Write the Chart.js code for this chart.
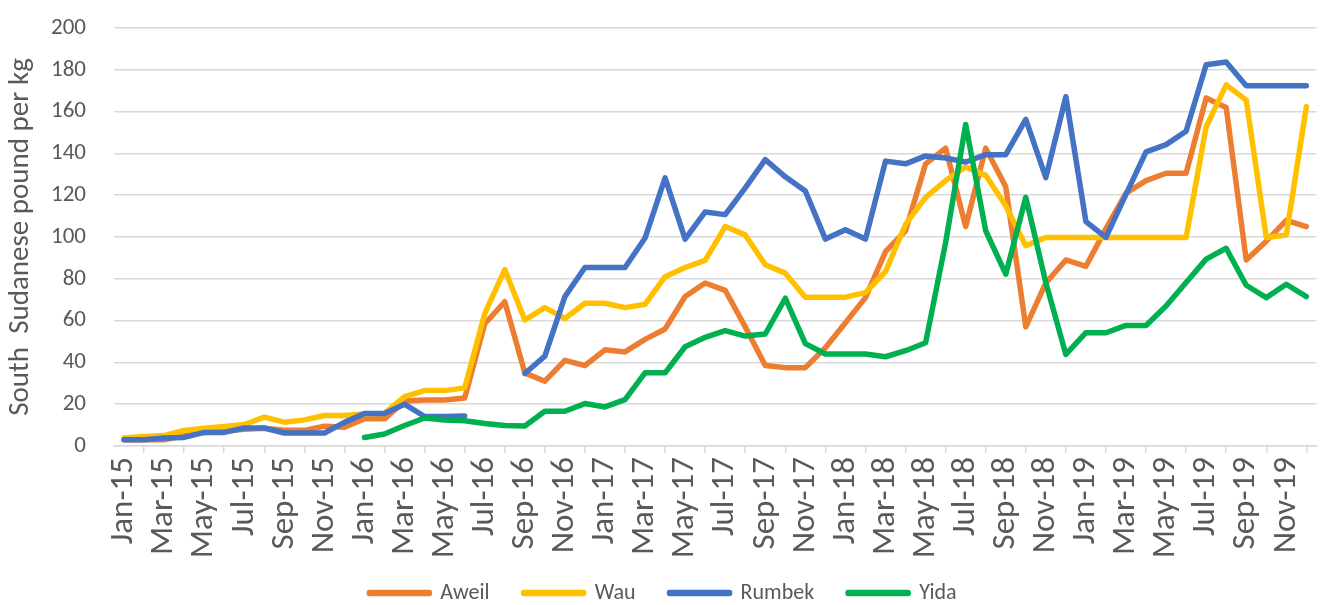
<!DOCTYPE html>
<html>
<head>
<meta charset="utf-8">
<script src="https://cdn.jsdelivr.net/npm/chart.js@4.4.1/dist/chart.umd.min.js"></script>
<style>
  html, body { margin: 0; padding: 0; background: #ffffff; }
  #wrap { width: 1330px; height: 605px; position: relative; }
</style>
</head>
<body>
<div id="wrap"><canvas id="c" width="1330" height="605"></canvas></div>
<script>
const months = [
  "Jan-15","Feb-15","Mar-15","Apr-15","May-15","Jun-15","Jul-15","Aug-15","Sep-15","Oct-15","Nov-15","Dec-15",
  "Jan-16","Feb-16","Mar-16","Apr-16","May-16","Jun-16","Jul-16","Aug-16","Sep-16","Oct-16","Nov-16","Dec-16",
  "Jan-17","Feb-17","Mar-17","Apr-17","May-17","Jun-17","Jul-17","Aug-17","Sep-17","Oct-17","Nov-17","Dec-17",
  "Jan-18","Feb-18","Mar-18","Apr-18","May-18","Jun-18","Jul-18","Aug-18","Sep-18","Oct-18","Nov-18","Dec-18",
  "Jan-19","Feb-19","Mar-19","Apr-19","May-19","Jun-19","Jul-19","Aug-19","Sep-19","Oct-19","Nov-19","Dec-19"
];

const aweil = [
  3, 3, 3, 5, 6.5, 7, 8, 8.5, 7.5, 7.5, 9.5, 9,
  13, 13, 21.5, 22, 22, 23, 58.5, 69, 35, 31, 41, 38.5,
  46, 45, 51, 56, 71.5, 78, 74.5, 57, 38.5, 37.5, 37.5, 47,
  59, 71, 93, 103, 135, 142.5, 105, 142.5, 124, 57, 78, 89,
  86, 104, 121, 127, 130.5, 130.5, 166.5, 162, 89, 98, 108, 105
];

const wau = [
  3.8, 4.5, 5, 7.4, 8.5, 9.3, 10.3, 13.8, 11.4, 12.5, 14.6, 14.6,
  15.3, 15.6, 23.6, 26.5, 26.5, 27.8, 63.3, 84.4, 60.3, 66.2, 61, 68.3,
  68.3, 66.2, 67.8, 81, 85.4, 88.8, 105, 101, 86.7, 82.7, 71.2, 71.2,
  71.2, 73.4, 83.5, 106, 119, 127, 133.5, 129.5, 115, 95.8, 99.8, 99.8,
  99.8, 99.8, 99.8, 99.8, 99.8, 99.8, 152.7, 172.8, 165.5, 99.8, 101, 162.3
];

const rumbek = [
  3, 3, 3.8, 4.1, 6.5, 6.5, 8.6, 8.6, 6.2, 6.2, 6.2, 11.3,
  15.6, 15.6, 20, 14.1, 14.1, 14.4, null, null, 34.7, 43, 71.5, 85.4,
  85.4, 85.4, 99.5, 128.3, 99, 112, 110.7, 123.5, 137, 128.8, 122, 99,
  103.5, 99, 136.3, 135, 138.8, 137.8, 135.9, 139.4, 139.4, 156.3, 128.4, 167.1,
  107.4, 99.8, 120.4, 140.7, 144.2, 150.6, 182.4, 183.7, 172.4, 172.4, 172.4, 172.4
];

const yida = [
  null, null, null, null, null, null, null, null, null, null, null, null,
  4.1, 5.7, 9.8, 13.4, 12.4, 12.1, 10.8, 9.8, 9.6, 16.6, 16.6, 20.3,
  18.7, 22.2, 35, 35, 47.5, 52, 55.2, 52.6, 53.6, 70.7, 49, 44,
  44, 44, 42.7, 45.6, 49.4, 97.4, 153.8, 103, 82.2, 119, 78.2, 43.8,
  54.2, 54.2, 57.7, 57.7, 67, 78.2, 89.4, 94.6, 76.9, 71, 77.4, 71.5
];

const yTicks = [0, 20, 40, 60, 80, 100, 120, 140, 160, 180, 200];
const yTitle = "South  Sudanese pound per kg";

const FONT = "Carlito, Lato, 'Liberation Sans', sans-serif";
const TXT = "#595959";
const GRID = "#D9D9D9";

function ds(label, data, color, order) {
  return {
    label, data, order,
    borderColor: color, backgroundColor: color,
    borderWidth: 5.5, pointRadius: 0, pointHoverRadius: 0,
    tension: 0, spanGaps: false,
    borderCapStyle: 'round', borderJoinStyle: 'round'
  };
}

// let the rotated month labels extend below the x-axis box (no clipping)
const labelRoom = {
  id: 'labelRoom',
  afterLayout(chart) { chart.scales.x.bottom = chart.height; }
};

new Chart(document.getElementById('c'), {
  type: 'line',
  data: {
    labels: months,
    datasets: [
      ds("Aweil", aweil, "#ED7D31", 4),
      ds("Wau", wau, "#FFC000", 3),
      ds("Rumbek", rumbek, "#4472C4", 2),
      ds("Yida", yida, "#00B050", 1)
    ]
  },
  plugins: [labelRoom],
  options: {
    responsive: false,
    animation: false,
    layout: { padding: { top: 28, right: 4, left: 0, bottom: -9 } },
    plugins: {
      legend: {
        position: 'bottom',
        labels: {
          color: TXT,
          font: { family: FONT, size: 22 },
          boxWidth: 60, boxHeight: 1,
          padding: 34,
          sort: (a, b) => a.datasetIndex - b.datasetIndex
        }
      },
      tooltip: { enabled: false }
    },
    scales: {
      x: {
        offset: true,
        grid: { offset: true, drawOnChartArea: false, drawTicks: true, tickLength: 7, color: GRID, lineWidth: 1.5 },
        border: { display: true, color: GRID, width: 1.5 },
        ticks: {
          autoSkip: false, maxRotation: 90, minRotation: 90,
          color: TXT, font: { family: FONT, size: 33 }, padding: 4,
          callback: function(v, i) { return i % 2 === 0 ? months[i] : null; }
        },
        afterFit: function(s) { s.height = 102; }
      },
      y: {
        min: 0, max: 200,
        afterBuildTicks: function(s) { s.ticks = yTicks.map(v => ({ value: v })); },
        grid: { drawTicks: true, tickLength: 25, tickColor: 'rgba(0,0,0,0)', color: GRID, lineWidth: 1.5 },
        border: { display: false },
        ticks: { color: TXT, font: { family: FONT, size: 23 }, padding: 3 },
        title: { display: true, text: yTitle, color: TXT, font: { family: FONT, size: 29 }, padding: { top: 3, bottom: 0 } },
        afterFit: function(s) { s.width = 114; }
      }
    }
  }
});
</script>
</body>
</html>
